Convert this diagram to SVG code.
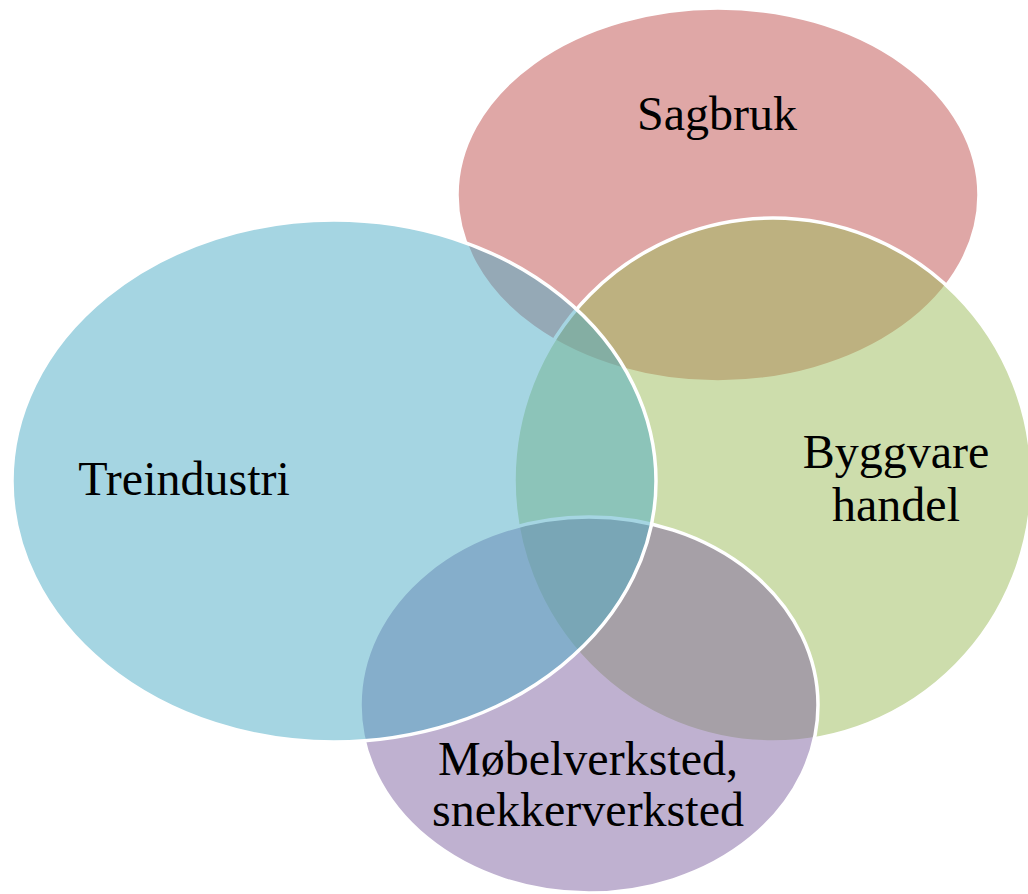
<svg xmlns="http://www.w3.org/2000/svg" width="1028" height="894" viewBox="0 0 1028 894">
<style>
.c{stroke:#ffffff;stroke-width:3.5}
.t{font-family:"Liberation Serif","DejaVu Serif",serif;font-size:48px;fill:#000000;text-anchor:middle}
</style>
<rect width="1028" height="894" fill="#ffffff"/>
<g id="node-sagbruk">
<ellipse class="c" cx="718" cy="195" rx="261" ry="187" fill="#C0504D" fill-opacity="0.5"/>
<text class="t" x="717" y="130">Sagbruk</text>
</g>
<g id="node-byggvare">
<ellipse class="c" cx="773" cy="480" rx="259" ry="262" fill="#9BBB59" fill-opacity="0.5"/>
<text class="t" x="896" y="468">Byggvare</text>
<text class="t" x="896" y="521">handel</text>
</g>
<g id="node-mobel">
<ellipse class="c" cx="589" cy="705" rx="229" ry="188" fill="#8064A2" fill-opacity="0.5"/>
<text class="t" x="588" y="775">Møbelverksted,</text>
<text class="t" x="588" y="826">snekkerverksted</text>
</g>
<g id="node-treindustri">
<ellipse class="c" cx="334" cy="481" rx="322" ry="261" fill="#4BACC6" fill-opacity="0.5"/>
<text class="t" x="184" y="495">Treindustri</text>
</g>
<g id="connectors"/>
</svg>
